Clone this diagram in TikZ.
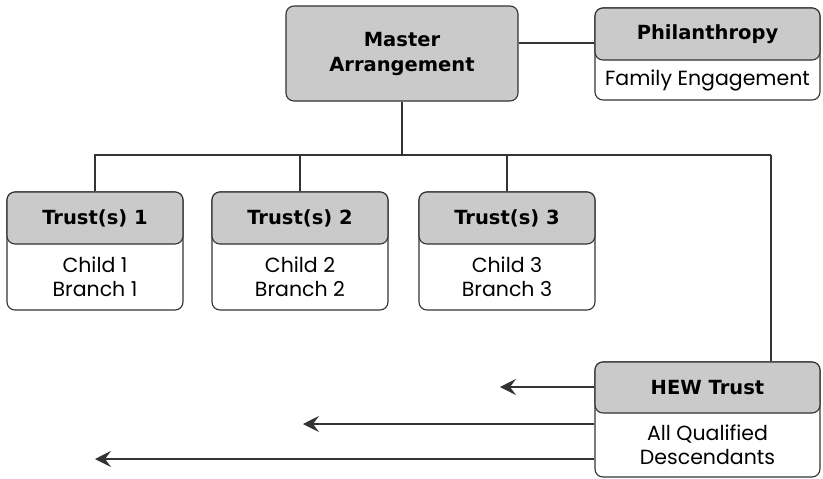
\documentclass[tikz,border=0pt]{standalone}
\usepackage{fontspec}
\setmainfont{Poppins}
\newfontfamily\headfont{DejaVu Sans}[BoldFont={DejaVu Sans Bold}]
\usetikzlibrary{arrows.meta}
\definecolor{linec}{HTML}{333333}
\definecolor{headgray}{HTML}{CACACA}
\tikzset{
  outerbox/.style={draw=linec, line width=1.1pt, rounded corners=8pt, fill=white,
    inner sep=0pt, minimum width=#1},
  headbox/.style={draw=linec, line width=1.1pt, rounded corners=8pt, fill=headgray,
    inner sep=0pt, minimum width=#1, align=center,
    font=\headfont\bfseries\fontsize{19.5}{25}\selectfont},
  bodytext/.style={align=center, inner sep=0pt, font=\fontsize{20.5}{24}\selectfont},
  wire/.style={draw=linec, line width=1.1pt},
  flow/.style={wire, -{Stealth[length=16pt,width=16pt,inset=6pt]}}
}
\begin{document}
\begin{tikzpicture}[x=1pt, y=-1pt]
\useasboundingbox (0,0) rectangle (823,479);

% top: master arrangement and philanthropy
\node[headbox=232, minimum height=95] (master) at (402,53.5) {Master\\Arrangement};
\node[outerbox=225, minimum height=92] (phil) at (707.5,54) {};
\node[headbox=225, minimum height=52] (philhead) at (707.5,34) {Philanthropy};
\node[bodytext] (philbody) at (707.5,80) {Family Engagement};

% trusts per child branch
\foreach \i/\x in {1/95, 2/300, 3/507}{
  \node[outerbox=176, minimum height=118] (t\i) at (\x,251) {};
  \node[headbox=176, minimum height=52] (t\i head) at (\x,218) {Trust(s) \i};
  \node[bodytext] (t\i body) at (\x,277) {Child \i\\Branch \i};
}

% HEW trust
\node[outerbox=225, minimum height=115] (hew) at (707.5,419.5) {};
\node[headbox=225, minimum height=51] (hewhead) at (707.5,387.5) {HEW Trust};
\node[bodytext] (hewbody) at (707.5,445) {All Qualified\\Descendants};

% routing points
\coordinate (tap) at (0,43);
\coordinate (busL) at (94,155);
\coordinate (busR) at (771,155);
\coordinate (a1) at (500,387);
\coordinate (a2) at (303,424);
\coordinate (a3) at (95,459);

% connectors
\draw[wire] (master.east |- tap) -- (phil.west |- tap);
\draw[wire] (master.south) -- (master.south |- busL);
\draw[wire] (busL) -- (busR);
\foreach \i in {1,2,3}{
  \draw[wire] (t\i.north |- busL) -- (t\i.north);
}
\draw[wire] (busR) -- (busR |- hew.north);

% distributions from the HEW trust
\draw[flow] (hew.west |- a1) -- (a1);
\draw[flow] (hew.west |- a2) -- (a2);
\draw[flow] (hew.west |- a3) -- (a3);
\end{tikzpicture}
\end{document}
